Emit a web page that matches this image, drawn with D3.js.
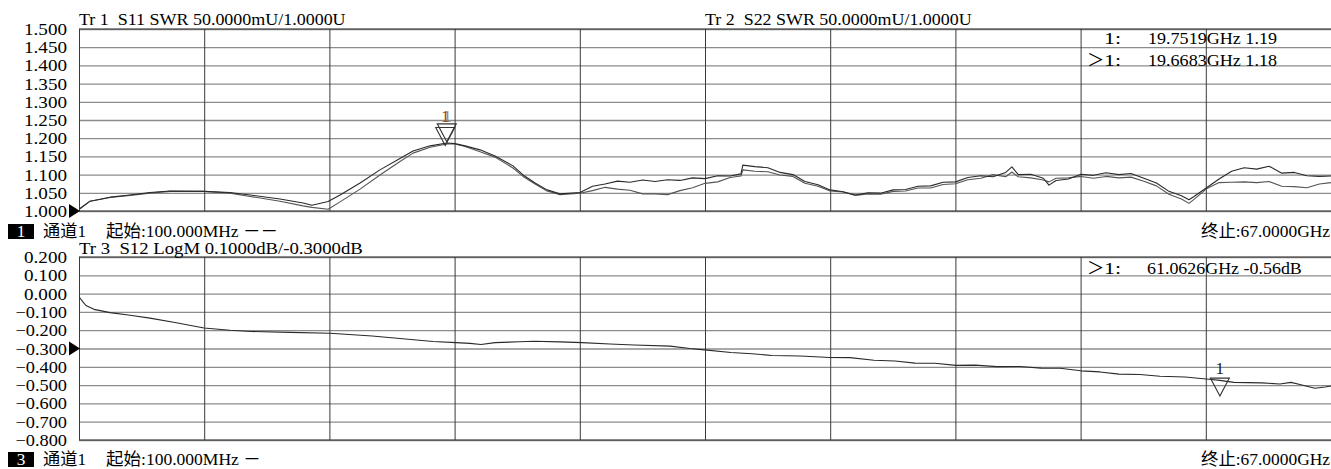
<!DOCTYPE html>
<html>
<head>
<meta charset="utf-8">
<script src="https://cdn.jsdelivr.net/npm/d3@7"></script>
<style>
  html, body { margin: 0; padding: 0; background: #fff; }
  svg { display: block; }
  text { font-family: "Liberation Serif", "Noto Sans CJK SC", serif; font-size: 17px; white-space: pre; }
</style>
</head>
<body>
<svg id="chart" width="1331" height="469"></svg>
<script>
// sweep: 100 MHz .. 67 GHz
const freqStart = 0.1, freqStop = 67.0;

// grid tick values
const topTicks = [1.5, 1.45, 1.4, 1.35, 1.3, 1.25, 1.2, 1.15, 1.1, 1.05, 1.0];
const botTicks = [0.2, 0.1, 0.0, -0.1, -0.2, -0.3, -0.4, -0.5, -0.6, -0.7, -0.8];

// Tr1 / Tr2 (SWR) sample frequencies, GHz
const swrFreq = [0.1,0.69,1.76,2.83,3.89,4.96,6.78,8.17,9.24,10.84,
  12.07,12.55,13.41,14.05,15.12,16.18,17.25,17.95,18.86,19.76,
  20.19,20.73,21.53,22.33,23.29,23.83,24.47,25.11,25.80,
  26.87,27.54,28.21,28.87,29.54,30.22,30.88,31.55,32.21,32.89,
  33.55,34.23,34.89,35.47,35.57,36.22,36.91,37.56,38.25,38.89,
  39.59,40.23,40.93,41.59,42.26,42.93,43.60,44.27,44.93,45.61,
  46.27,46.94,47.60,48.29,48.94,49.62,49.95,50.29,50.96,51.63,
  51.93,52.31,52.97,53.64,54.31,54.98,55.66,56.31,57.00,57.67,
  58.34,59.01,59.41,59.68,60.35,61.02,61.69,62.36,63.03,63.69,
  64.37,65.04,65.71,66.38,67.0];

const s11 = [1.005,1.027,1.038,1.044,1.051,1.055,1.054,1.051,1.044,1.033,
  1.022,1.016,1.026,1.044,1.077,1.113,1.144,1.165,1.179,1.187,
  1.185,1.179,1.168,1.151,1.124,1.099,1.077,1.058,1.047,
  1.051,1.068,1.074,1.082,1.079,1.085,1.081,1.086,1.084,1.091,
  1.089,1.097,1.096,1.102,1.126,1.122,1.119,1.106,1.100,1.081,
  1.072,1.058,1.053,1.044,1.050,1.049,1.058,1.059,1.068,1.069,
  1.079,1.080,1.092,1.097,1.094,1.106,1.121,1.100,1.101,1.090,
  1.071,1.084,1.088,1.101,1.098,1.105,1.100,1.103,1.090,1.077,
  1.054,1.042,1.031,1.040,1.064,1.088,1.109,1.119,1.115,1.123,
  1.104,1.106,1.097,1.095,1.096];

const s22 = [1.004,1.027,1.037,1.043,1.049,1.054,1.054,1.049,1.040,1.027,
  1.014,1.010,1.005,1.025,1.060,1.099,1.136,1.159,1.175,1.184,
  1.184,1.177,1.163,1.148,1.118,1.095,1.074,1.055,1.045,
  1.049,1.056,1.065,1.060,1.057,1.047,1.047,1.045,1.056,1.064,
  1.076,1.080,1.092,1.096,1.113,1.109,1.108,1.099,1.095,1.076,
  1.068,1.055,1.052,1.043,1.047,1.046,1.054,1.055,1.063,1.063,
  1.073,1.075,1.086,1.090,1.100,1.094,1.107,1.094,1.091,1.085,
  1.080,1.090,1.091,1.095,1.090,1.095,1.091,1.093,1.082,1.069,
  1.046,1.033,1.021,1.032,1.061,1.078,1.079,1.080,1.078,1.081,
  1.068,1.067,1.064,1.074,1.078];

// Tr3 (S12 LogM) samples
const s12Freq = [0.1,0.31,0.47,0.90,1.76,2.83,3.89,5.23,6.78,8.17,
  9.29,11.37,13.51,15.76,17.25,19.02,20.24,20.99,21.58,22.33,
  23.66,24.41,25.80,26.98,28.47,29.76,31.68,32.75,33.39,34.94,
  36.06,37.13,38.63,40.23,41.30,42.58,43.70,44.77,45.84,46.96,
  47.98,49.15,50.38,51.50,52.52,53.64,54.66,55.67,56.79,57.86,
  59.20,60.48,61.06,61.81,63.31,64.27,64.86,65.34,66.14,66.68,67.0];

const s12 = [-0.017,-0.045,-0.065,-0.086,-0.104,-0.118,-0.134,-0.158,-0.188,-0.200,
  -0.207,-0.212,-0.217,-0.232,-0.245,-0.262,-0.268,-0.272,-0.278,-0.268,
  -0.263,-0.260,-0.264,-0.268,-0.275,-0.281,-0.287,-0.300,-0.306,-0.322,
  -0.329,-0.338,-0.341,-0.349,-0.350,-0.364,-0.368,-0.380,-0.381,-0.392,
  -0.391,-0.399,-0.398,-0.407,-0.408,-0.422,-0.428,-0.440,-0.442,-0.452,
  -0.456,-0.468,-0.474,-0.485,-0.488,-0.494,-0.485,-0.497,-0.517,-0.510,-0.505];

// markers
const swrMarkers = [{f: 19.7519, v: 1.19}, {f: 19.6683, v: 1.18}];
const s12Marker = {f: 61.0626, v: -0.56};

const CELL = 8.6; // half-width character cell

const svg = d3.select('#chart');
const left = 79, right = 1331;

const x = d3.scaleLinear().domain([freqStart, freqStop]).range([left, right]);
const yTop = d3.scaleLinear().domain([1.0, 1.5]).range([211, 29]);
const yBot = d3.scaleLinear().domain([-0.8, 0.2]).range([440, 257]);

const divs = d3.range(11).map(i => freqStart + i * (freqStop - freqStart) / 10);

function cells(s) {
  let n = 0;
  for (const ch of s) n += /[\u2e80-\u9fff\uff00-\uffef]/.test(ch) ? 2 : 1;
  return n;
}

function label(g, px, py, s, anchor, fill) {
  return g.append('text')
    .attr('x', px).attr('y', py)
    .attr('text-anchor', anchor || 'start')
    .attr('textLength', cells(s) * CELL)
    .attr('lengthAdjust', 'spacingAndGlyphs')
    .attr('fill', fill || '#000')
    .text(s);
}

const fmt = v => d3.format('.3f')(v).replace('-', '\u2212');

function panel(y, ticks) {
  const g = svg.append('g');
  const [y0, y1] = y.range();

  // horizontal grid
  g.append('g')
    .attr('transform', `translate(${left},0)`)
    .call(d3.axisLeft(y).tickValues(ticks).tickSize(-(right - left)).tickFormat(''))
    .call(a => a.select('.domain').remove())
    .call(a => a.selectAll('line').attr('stroke', '#8c8c8c').attr('stroke-width', 1.3));

  // vertical grid
  g.append('g')
    .attr('transform', `translate(0,${y0})`)
    .call(d3.axisBottom(x).tickValues(divs).tickSize(-(y0 - y1)).tickFormat(''))
    .call(a => a.select('.domain').remove())
    .call(a => a.selectAll('line').attr('stroke', '#3a3a3a').attr('stroke-width', 1));

  // borders top / bottom
  [y0, y1].forEach(yy => g.append('line')
    .attr('x1', left).attr('x2', right).attr('y1', yy).attr('y2', yy)
    .attr('stroke', '#333').attr('stroke-width', 1.2));

  // tick labels
  ticks.forEach(t => label(g, 67, y(t) + 6, fmt(t), 'end'));
  return g;
}

function refArrow(py) {
  svg.append('path')
    .attr('d', `M69,${py - 7}L80,${py}L69,${py + 7}Z`)
    .attr('fill', '#000');
}

function trace(g, xs, ys, y, color) {
  const line = d3.line().x((d, i) => x(xs[i])).y(d => y(d));
  g.append('path')
    .datum(ys)
    .attr('d', line)
    .attr('fill', 'none')
    .attr('stroke', color)
    .attr('stroke-width', 1.1)
    .attr('stroke-linejoin', 'round')
    .attr('clip-path', 'url(#clipPlot)');
}

function marker(g, m, y) {
  const px = x(m.f), py = y(m.v);
  g.append('path')
    .attr('d', `M${px},${py}L${px - 9.5},${py - 18}L${px + 9.5},${py - 18}Z`)
    .attr('fill', 'none')
    .attr('stroke', '#333')
    .attr('stroke-width', 1.1);
}

svg.append('defs').append('clipPath').attr('id', 'clipPlot')
  .append('rect').attr('x', left).attr('y', 0).attr('width', right - left).attr('height', 469);

// ---- top panel: Tr1 / Tr2 SWR
const gTop = panel(yTop, topTicks);
trace(gTop, swrFreq, s22, yTop, '#555');
trace(gTop, swrFreq, s11, yTop, '#2a2a2a');
swrMarkers.forEach(m => marker(gTop, m, yTop));
label(gTop, x(swrMarkers[0].f) + 0.5, yTop(swrMarkers[0].v) - 20, '1', 'middle', '#8a8a8a');
label(gTop, x(swrMarkers[1].f), yTop(swrMarkers[1].v) - 23, '1', 'middle', '#a0481c');

refArrow(yTop(1.0));

label(svg, 79, 25, 'Tr 1  S11 SWR 50.0000mU/1.0000U');
label(svg, 705, 25, 'Tr 2  S22 SWR 50.0000mU/1.0000U');

label(svg, 1104, 44, '1:');
label(svg, 1148, 44, '19.7519GHz 1.19');
label(svg, 1087, 66, '＞');
label(svg, 1104, 66, '1:');
label(svg, 1148, 66, '19.6683GHz 1.18');

// channel bar 1
svg.append('rect').attr('x', 8).attr('y', 224).attr('width', 26).attr('height', 15).attr('fill', '#000');
label(svg, 21, 237, '1', 'middle', '#fff');
label(svg, 43, 237, '通道1');
label(svg, 106, 237, '起始:100.000MHz －－');
label(svg, 1330, 237, '终止:67.0000GHz', 'end');

// ---- bottom panel: Tr3 S12 LogM
const gBot = panel(yBot, botTicks);
trace(gBot, s12Freq, s12, yBot, '#2a2a2a');
marker(gBot, s12Marker, yBot);
label(gBot, x(s12Marker.f), yBot(s12Marker.v) - 22, '1', 'middle', '#222');

refArrow(yBot(-0.3));

label(svg, 79, 254, 'Tr 3  S12 LogM 0.1000dB/-0.3000dB');
label(svg, 1087, 274, '＞');
label(svg, 1104, 274, '1:');
label(svg, 1147, 274, '61.0626GHz -0.56dB');

// channel bar 3
svg.append('rect').attr('x', 8).attr('y', 452).attr('width', 26).attr('height', 15).attr('fill', '#000');
label(svg, 21, 465, '3', 'middle', '#fff');
label(svg, 43, 465, '通道1');
label(svg, 106, 465, '起始:100.000MHz －');
label(svg, 1330, 465, '终止:67.0000GHz', 'end');
</script>
</body>
</html>
